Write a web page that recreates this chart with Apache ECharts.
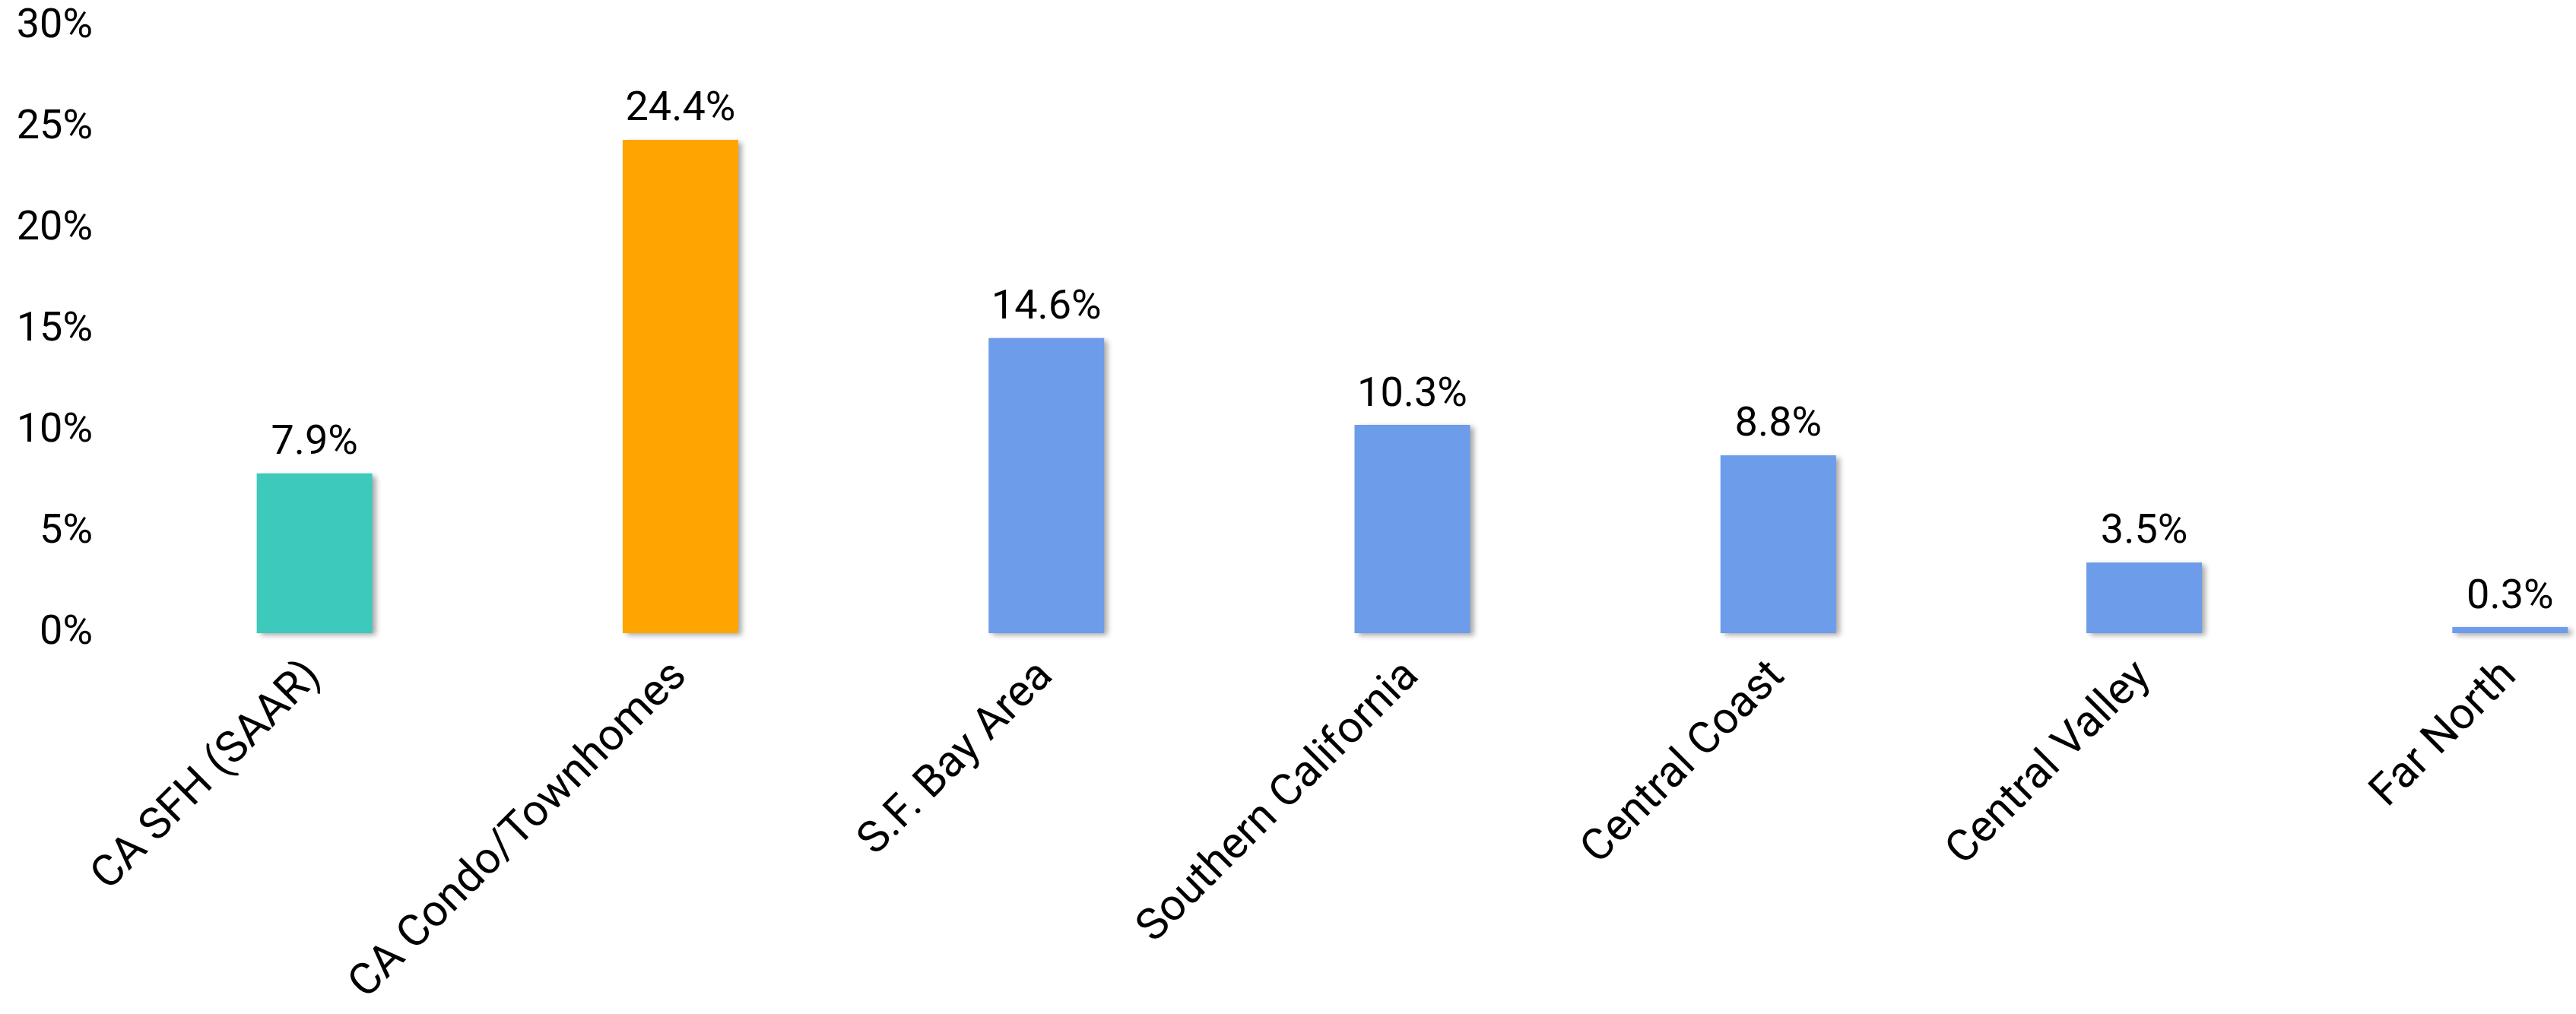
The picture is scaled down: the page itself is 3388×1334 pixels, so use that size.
<!DOCTYPE html>
<html>
<head>
<meta charset="utf-8">
<title>Sales change by region</title>
<script src="https://cdn.jsdelivr.net/npm/echarts@6/dist/echarts.min.js"></script>
<style>
  html, body { margin: 0; padding: 0; background: #ffffff; }
  #chart { width: 3388px; height: 1334px; }
</style>
</head>
<body>
<div id="chart"></div>
<script>
// Regions shown along the x axis
const categories = [
  'CA SFH (SAAR)',
  'CA Condo/Townhomes',
  'S.F. Bay Area',
  'Southern California',
  'Central Coast',
  'Central Valley',
  'Far North'
];

// Percent change for each region
const values = [7.9, 24.4, 14.6, 10.3, 8.8, 3.5, 0.3];

// Bar fill per region
const barColors = ['#3DC9BB', '#FFA502', '#6C9CEA', '#6C9CEA', '#6C9CEA', '#6C9CEA', '#6C9CEA'];

// Value axis ticks (percent)
const yTicks = [0, 5, 10, 15, 20, 25, 30];

const FONT = 'Roboto, "Noto Sans", sans-serif';

const chart = echarts.init(document.getElementById('chart'), null, { renderer: 'canvas' });

chart.setOption({
  backgroundColor: '#ffffff',
  animation: false,
  grid: {
    left: 173,
    right: -154,
    top: 35,
    bottom: 501,
    outerBoundsMode: 'none',
    containLabel: false
  },
  xAxis: {
    type: 'category',
    data: categories,
    axisLine: { show: false },
    axisTick: { show: false },
    splitLine: { show: false },
    axisLabel: {
      interval: 0,
      rotate: 45,
      margin: 48,
      color: '#000000',
      fontFamily: FONT,
      fontSize: 58
    }
  },
  yAxis: {
    type: 'value',
    min: yTicks[0],
    max: yTicks[yTicks.length - 1],
    interval: yTicks[1] - yTicks[0],
    axisLine: { show: false },
    axisTick: { show: false },
    splitLine: { show: false },
    axisLabel: {
      margin: 51,
      color: '#000000',
      fontFamily: FONT,
      fontSize: 54,
      formatter: v => v + '%'
    }
  },
  series: [{
    type: 'bar',
    barWidth: 152,
    data: values.map((v, i) => ({
      value: v,
      itemStyle: { color: barColors[i] }
    })),
    itemStyle: {
      shadowColor: 'rgba(0,0,0,0.35)',
      shadowBlur: 7,
      shadowOffsetX: 5,
      shadowOffsetY: 3
    },
    label: {
      show: true,
      position: 'top',
      distance: 12,
      color: '#000000',
      fontFamily: FONT,
      fontSize: 54,
      formatter: p => p.value.toFixed(1) + '%'
    }
  }]
});
</script>
</body>
</html>
